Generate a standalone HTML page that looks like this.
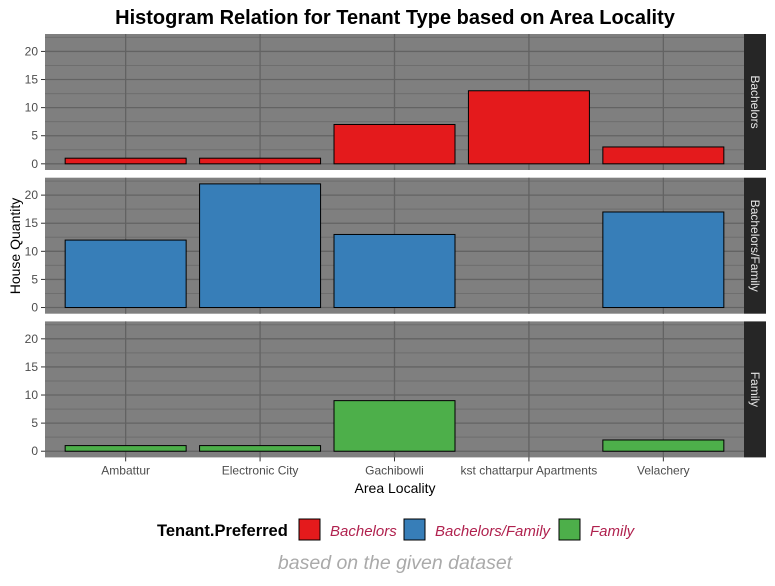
<!DOCTYPE html>
<html><head><meta charset="utf-8"><style>
body{margin:0;background:#fff;font-family:"Liberation Sans",sans-serif}
</style></head><body>
<svg id="c" width="775" height="581" xmlns="http://www.w3.org/2000/svg">
<text x="395" y="24" text-anchor="middle" font-size="20" font-weight="bold">Histogram Relation for Tenant Type based on Area Locality</text>
<g id="panels"></g>
<text x="395" y="493" text-anchor="middle" font-size="14">Area Locality</text>
<text transform="translate(20,246) rotate(-90)" text-anchor="middle" font-size="14">House Quantity</text>
<g>
<text x="157" y="536" font-size="16.5" font-weight="bold">Tenant.Preferred</text>
<rect x="299" y="519" width="21" height="21" fill="#e41a1c" stroke="#000"/>
<text x="330" y="536" font-size="15" font-style="italic" fill="#b0214e">Bachelors</text>
<rect x="404" y="519" width="21" height="21" fill="#377eb8" stroke="#000"/>
<text x="435" y="536" font-size="15" font-style="italic" fill="#b0214e">Bachelors/Family</text>
<rect x="559" y="519" width="21" height="21" fill="#4daf4a" stroke="#000"/>
<text x="590" y="536" font-size="15" font-style="italic" fill="#b0214e">Family</text>
</g>
<text x="395" y="569" text-anchor="middle" font-size="19.5" font-style="italic" fill="#aaaaaa">based on the given dataset</text>
</svg>
<script>
const categories=["Ambattur","Electronic City","Gachibowli","kst chattarpur Apartments","Velachery"];
const groups=["Bachelors","Bachelors/Family","Family"];
const bachelors=[1,1,7,13,3];
const bachelorsFamily=[12,22,13,0,17];
const family=[1,1,9,0,2];
const yTicks=[0,5,10,15,20];
const series=[bachelors,bachelorsFamily,family];
const colors=["#e41a1c","#377eb8","#4daf4a"];
const NS="http://www.w3.org/2000/svg";
const g=document.getElementById("panels");
const px0=45,px1=744,ph=136,tops=[34,177.7,321.4];
const ymin=-1.1,ymax=23.1;
const step=(px1-px0)/(categories.length+0.2);
const xc=i=>px0+step*(i+0.6);
function mk(t,a,p){const e=document.createElementNS(NS,t);for(const k in a)e.setAttribute(k,a[k]);(p||g).appendChild(e);return e;}
groups.forEach((grp,pi)=>{
  const top=tops[pi];
  const y=v=>top+ph-(v-ymin)/(ymax-ymin)*ph;
  const bg=mk("rect",{x:px0,y:top,width:px1-px0,height:ph,fill:"#7f7f7f"});
  
  
  for(let v=2.5;v<23;v+=5){mk("line",{x1:px0,x2:px1,y1:y(v),y2:y(v),stroke:"#6e6e6e","stroke-width":1});}
  yTicks.forEach(v=>{
    mk("line",{x1:px0,x2:px1,y1:y(v),y2:y(v),stroke:"#636363","stroke-width":1.3});
    mk("line",{x1:41,x2:45,y1:y(v),y2:y(v),stroke:"#333"});
    const t=mk("text",{x:38,y:y(v)+4,"text-anchor":"end","font-size":12,fill:"#4d4d4d"});t.textContent=v;
    
    
  });
  categories.forEach((c,i)=>{mk("line",{x1:xc(i),x2:xc(i),y1:top,y2:top+ph,stroke:"#636363","stroke-width":1.3});});
  series[pi].forEach((v,i)=>{
    if(!v)return;
    const b=mk("rect",{x:xc(i)-step*0.45,y:y(v),width:step*0.9,height:y(0)-y(v),fill:colors[pi],stroke:"#000","stroke-width":1});
    
    
  });
  const s=mk("rect",{x:744,y:top,width:22,height:ph,fill:"#262626"});
  
  
  const st=mk("text",{transform:`translate(751,${top+ph/2}) rotate(90)`,"text-anchor":"middle","font-size":12,fill:"#e6e6e6"});st.textContent=grp;
  
  
});
categories.forEach((c,i)=>{
  const yb=tops[2]+ph;
  mk("line",{x1:xc(i),x2:xc(i),y1:yb,y2:yb+4,stroke:"#333"});
  const t=mk("text",{x:xc(i),y:yb+17,"text-anchor":"middle","font-size":12,fill:"#4d4d4d"});t.textContent=c;
  
  
});
</script>
</body></html>
